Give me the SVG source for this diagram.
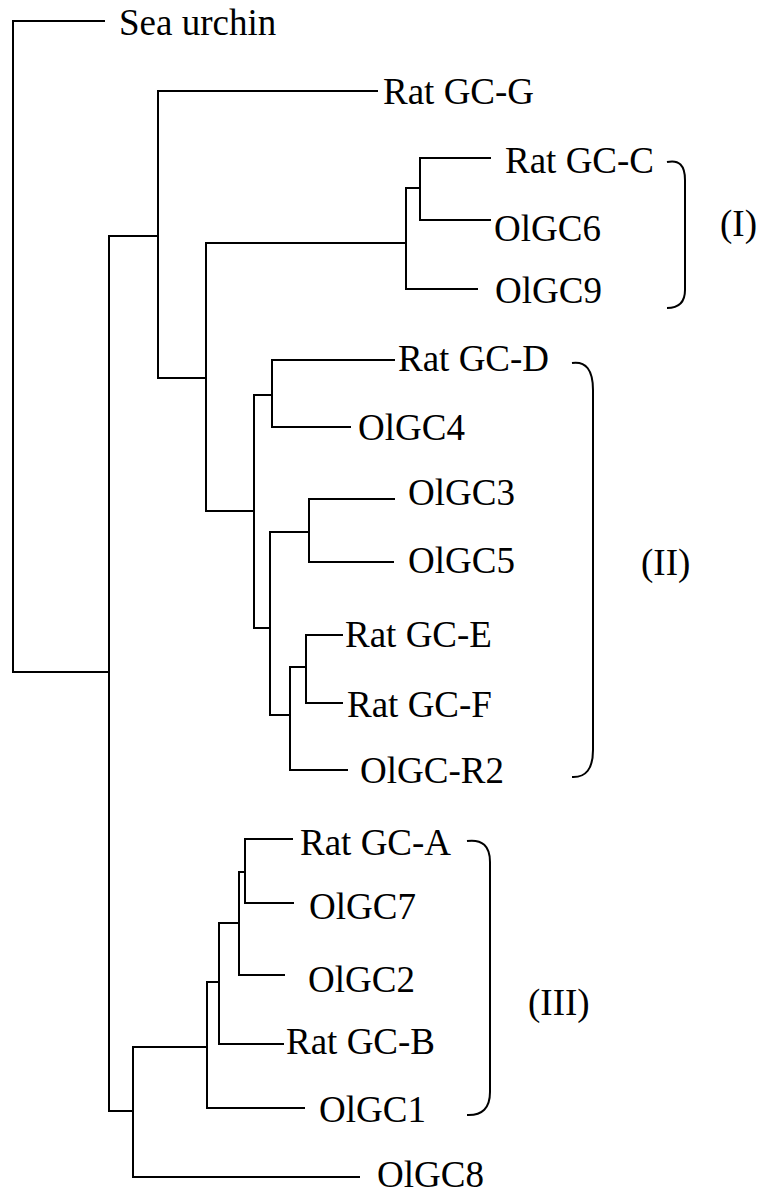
<svg xmlns="http://www.w3.org/2000/svg" width="759" height="1194" viewBox="0 0 759 1194">
<style>
.e{fill:none;stroke:#000;stroke-width:2;stroke-linecap:square}
.b{fill:none;stroke:#000;stroke-width:2}
.t{font-family:'Liberation Serif','DejaVu Serif','Noto Serif',serif;font-size:37px;fill:#000}
</style>
<rect width="759" height="1194" fill="#fff"/>
<g id="connectors">
<path class="e" d="M104,21H13V672H109"/>
<path class="e" d="M157,236H109V1111H133"/>
<path class="e" d="M377,91H158V378H206"/>
<path class="e" d="M406,243H206V511H254"/>
<path class="e" d="M477,289H406V188H420"/>
<path class="e" d="M490,158H420V220H490"/>
<path class="e" d="M272,395H254V628H270"/>
<path class="e" d="M394,360H272V427H350"/>
<path class="e" d="M309,532H270V715H290"/>
<path class="e" d="M394,499H309V562H393"/>
<path class="e" d="M306,667H290V770H347"/>
<path class="e" d="M342,635H306V703H342"/>
<path class="e" d="M207,1047H133V1177H359"/>
<path class="e" d="M219,982H207V1108H304"/>
<path class="e" d="M239,923H219V1044H283"/>
<path class="e" d="M245,872H239V975H284"/>
<path class="e" d="M292,839H245V903H293"/>
</g>
<g id="brackets">
<path class="b" d="M667,162Q685,158 685,180V290Q685,308 667,308"/>
<path class="b" d="M572,363Q593,360 593,390V750Q593,778 572,777"/>
<path class="b" d="M467,841Q490,838 490,862V1092Q490,1116 467,1115"/>
</g>
<g class="t" font-family="Liberation Serif, DejaVu Serif, serif" font-size="37">
<g id="leaf-sea-urchin"><text x="119" y="35">Sea urchin</text></g>
<g id="leaf-rat-gc-g"><text x="383" y="104">Rat GC-G</text></g>
<g id="leaf-rat-gc-c"><text x="505" y="173">Rat GC-C</text></g>
<g id="leaf-olgc6"><text x="494" y="241">OlGC6</text></g>
<g id="leaf-olgc9"><text x="495" y="303">OlGC9</text></g>
<g id="leaf-rat-gc-d"><text x="398" y="371">Rat GC-D</text></g>
<g id="leaf-olgc4"><text x="358" y="440">OlGC4</text></g>
<g id="leaf-olgc3"><text x="408" y="505">OlGC3</text></g>
<g id="leaf-olgc5"><text x="408" y="573">OlGC5</text></g>
<g id="leaf-rat-gc-e"><text x="345" y="647">Rat GC-E</text></g>
<g id="leaf-rat-gc-f"><text x="347" y="717">Rat GC-F</text></g>
<g id="leaf-olgc-r2"><text x="360" y="783">OlGC-R2</text></g>
<g id="leaf-rat-gc-a"><text x="300" y="855">Rat GC-A</text></g>
<g id="leaf-olgc7"><text x="309" y="919">OlGC7</text></g>
<g id="leaf-olgc2"><text x="308" y="992">OlGC2</text></g>
<g id="leaf-rat-gc-b"><text x="286" y="1054">Rat GC-B</text></g>
<g id="leaf-olgc1"><text x="319" y="1122">OlGC1</text></g>
<g id="leaf-olgc8"><text x="377" y="1187">OlGC8</text></g>
<g id="label-i"><text x="720" y="236">(I)</text></g>
<g id="label-ii"><text x="641" y="575">(II)</text></g>
<g id="label-iii"><text x="528" y="1015">(III)</text></g>
</g>
</svg>
